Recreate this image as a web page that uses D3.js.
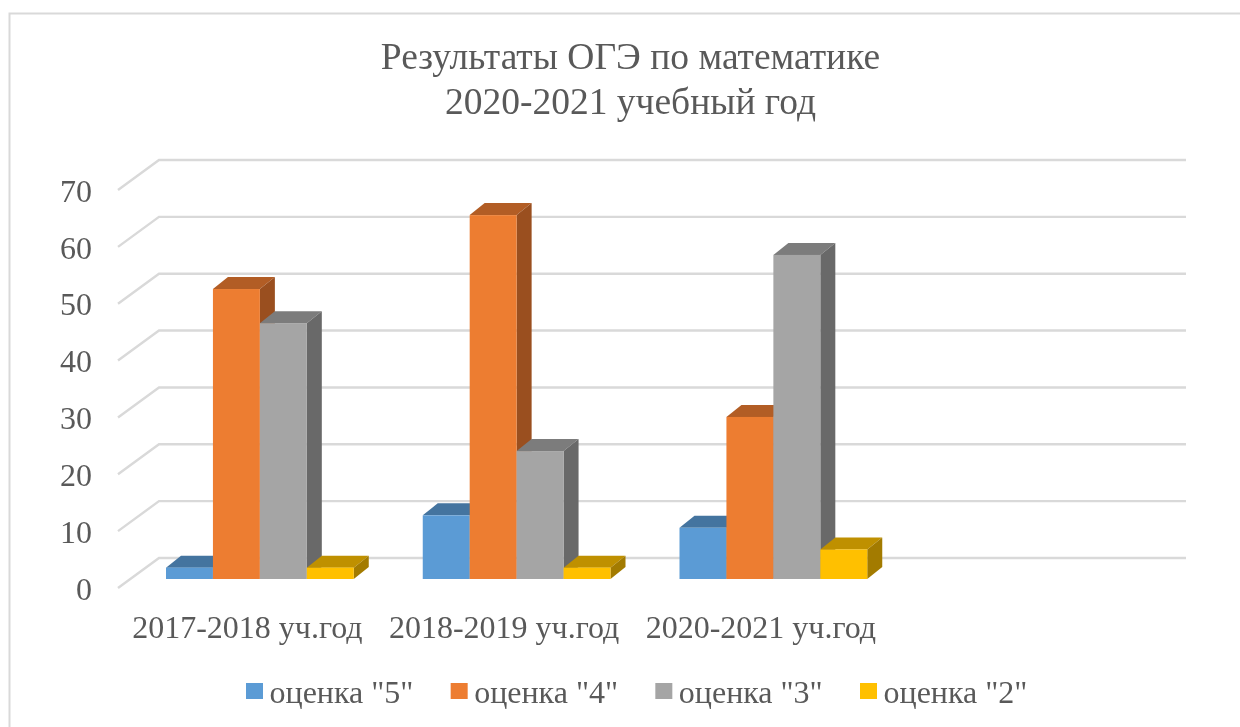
<!DOCTYPE html>
<html>
<head>
<meta charset="utf-8">
<script src="https://cdn.jsdelivr.net/npm/d3@7"></script>
<style>
	html, body { margin: 0; padding: 0; background: #fff; overflow: hidden; }
	svg { filter: blur(0.4px); }
	text { font-family: "Liberation Serif", serif; fill: #595959; }
</style>
</head>
<body>
<div id="graph"></div>
<script>
var categories = ['2017-2018 уч.год', '2018-2019 уч.год', '2020-2021 уч.год', '']
var seriesNames = ['оценка "5"', 'оценка "4"', 'оценка "3"', 'оценка "2"']
var seriesColors = ['#5b9bd5', '#ed7d31', '#a5a5a5', '#ffc000']
var topColors = ['#44749f', '#b25d25', '#7c7c7c', '#bf9000']
var sideColors = ['#3a6488', '#9a4f1f', '#696969', '#a37b00']
var ocenka5 = [2, 11.2, 9]
var ocenka4 = [51, 64, 28.5]
var ocenka3 = [45, 22.5, 57]
var ocenka2 = [2, 2, 5.2]
var yTicks = [0, 10, 20, 30, 40, 50, 60, 70]
var titleLines = ['Результаты ОГЭ по математике', '2020-2021 учебный год']

var seriesValues = [ocenka5, ocenka4, ocenka3, ocenka2]

var w = 1240
var h = 727

// the "3d" box: front edge of the walls, shifts to the bar plane and to the back wall
var frontLeft = 118
var frontRight = 1145
var frontBottom = 588
var frontTop = 190
var wallDx = 41
var wallDy = -30
var barDx = 15
var barDy = -12
var planeDx = 13.5
var planeDy = -9
var groupPad = 34.5

var svg = d3.select('#graph')
	.append('svg')
	.attr('width', w)
	.attr('height', h)
	.style('display', 'block')

// chart frame
svg.append('path')
	.attr('d', 'M9.5,' + h + 'V13.5H' + w)
	.attr('fill', 'none')
	.attr('stroke', '#d9d9d9')
	.attr('stroke-width', 2)

var xScale = d3.scaleBand()
	.domain(categories)
	.range([frontLeft, frontRight])

var xInner = d3.scaleBand()
	.domain(seriesNames)
	.range([groupPad, xScale.bandwidth() - groupPad])

var yScale = d3.scaleLinear()
	.domain([0, 70])
	.range([frontBottom, frontTop])

// walls
var grid = svg.append('g')
	.attr('fill', 'none')
	.attr('stroke', '#d9d9d9')
	.attr('stroke-width', 2.4)

grid.selectAll('path')
	.data(yTicks)
	.enter()
	.append('path')
	.attr('d', (d) => 'M' + frontLeft + ',' + yScale(d) +
		'L' + (frontLeft + wallDx) + ',' + (yScale(d) + wallDy) +
		'H' + (frontRight + wallDx))

// bars, series by series so that the later ones cover the sides of the earlier ones
var bars = []
categories.slice(0, 3).forEach(function(cat, c) {
	seriesNames.forEach(function(name, s) {
		bars.push({ cat: cat, name: name, s: s, value: seriesValues[s][c] })
	})
})

var barGroups = svg.append('g')
	.selectAll('g')
	.data(bars)
	.enter()
	.append('g')
	.attr('transform', 'translate(' + planeDx + ',' + planeDy + ')')

function barX(d) {
	return xScale(d.cat) + xInner(d.name)
}

var bw = xInner.bandwidth()

barGroups.append('path')
	.attr('fill', (d) => topColors[d.s])
	.attr('d', function(d) {
		var x = barX(d), y = yScale(d.value)
		return 'M' + x + ',' + y + 'l' + barDx + ',' + barDy + 'h' + bw + 'l' + (-barDx) + ',' + (-barDy) + 'Z'
	})

barGroups.append('path')
	.attr('fill', (d) => sideColors[d.s])
	.attr('d', function(d) {
		var x = barX(d) + bw, y = yScale(d.value)
		return 'M' + x + ',' + y + 'l' + barDx + ',' + barDy + 'V' + (yScale(0) + barDy) + 'L' + x + ',' + yScale(0) + 'Z'
	})

barGroups.append('rect')
	.attr('x', barX)
	.attr('y', (d) => yScale(d.value))
	.attr('width', bw)
	.attr('height', (d) => yScale(0) - yScale(d.value))
	.attr('fill', (d) => seriesColors[d.s])

// axes
var yAxis = d3.axisLeft(yScale)
	.tickValues(yTicks)
	.tickSize(0)
	.tickPadding(26)

var yAxisGroup = svg.append('g')
	.attr('transform', 'translate(' + frontLeft + ',1)')
	.call(yAxis)
yAxisGroup.select('.domain').remove()
yAxisGroup.selectAll('text')
	.attr('font-family', null)
	.style('font-size', '32px')

var xAxis = d3.axisBottom(xScale)
	.tickSize(0)
	.tickPadding(0)

var xAxisGroup = svg.append('g')
	.attr('transform', 'translate(1,615)')
	.call(xAxis)
xAxisGroup.select('.domain').remove()
xAxisGroup.selectAll('text')
	.attr('font-family', null)
	.style('font-size', '32px')

// title
svg.append('g')
	.selectAll('text')
	.data(titleLines)
	.enter()
	.append('text')
	.attr('x', 630.5)
	.attr('y', (d, i) => 69 + i * 45)
	.attr('text-anchor', 'middle')
	.style('font-size', '37.5px')
	.text((d) => d)

// legend
var legendX = d3.scalePoint()
	.domain(seriesNames)
	.range([246, 860])

var legend = svg.append('g')
	.selectAll('g')
	.data(seriesNames)
	.enter()
	.append('g')
	.attr('transform', (d) => 'translate(' + legendX(d) + ',683)')

legend.append('rect')
	.attr('width', 17)
	.attr('height', 16)
	.attr('fill', (d, i) => seriesColors[i])

legend.append('text')
	.attr('x', 23.5)
	.attr('y', 20)
	.style('font-size', '32px')
	.text((d) => d)
</script>
</body>
</html>
